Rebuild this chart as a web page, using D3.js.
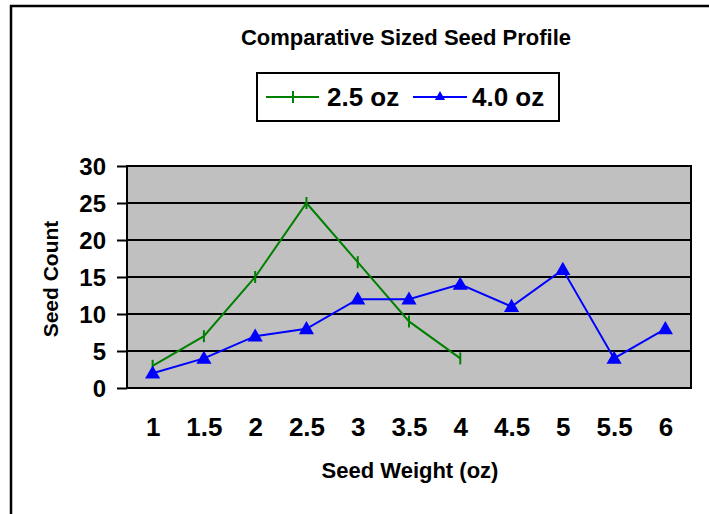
<!DOCTYPE html>
<html>
<head>
<meta charset="utf-8">
<script src="https://cdn.jsdelivr.net/npm/d3@7"></script>
<style>
  html, body { margin: 0; padding: 0; background: #fff; }
  text { font-family: 'Liberation Sans', Arial, sans-serif; font-weight: bold; fill: #000; }
</style>
</head>
<body>
<svg id="chart" width="709" height="514"></svg>
<script>
// chart data
const weights = ['1', '1.5', '2', '2.5', '3', '3.5', '4', '4.5', '5', '5.5', '6'];
const seeds25 = [3, 7, 15, 25, 17, 9, 4];
const seeds40 = [2, 4, 7, 8, 12, 12, 14, 11, 16, 4, 8];
const yTicks = [0, 5, 10, 15, 20, 25, 30];
const seriesNames = ['2.5 oz', '4.0 oz'];

const svg = d3.select('#chart');

// outer frame (right / bottom run off the page)
svg.append('rect')
  .attr('x', 11).attr('y', 6)
  .attr('width', 720).attr('height', 530)
  .attr('fill', 'none')
  .attr('stroke', '#000')
  .attr('stroke-width', 2.5);

const plot = { left: 127, right: 691, top: 166, bottom: 388 };

const x = d3.scalePoint()
  .domain(weights)
  .range([plot.left, plot.right])
  .padding(0.5);

const y = d3.scaleLinear()
  .domain([0, 30])
  .range([plot.bottom, plot.top]);

// plot area
svg.append('rect')
  .attr('x', plot.left).attr('y', plot.top)
  .attr('width', plot.right - plot.left)
  .attr('height', plot.bottom - plot.top)
  .attr('fill', '#c0c0c0');

// gridlines
svg.append('g')
  .selectAll('line')
  .data(yTicks.slice(1, -1))
  .join('line')
  .attr('x1', plot.left).attr('x2', plot.right)
  .attr('y1', (d) => y(d)).attr('y2', (d) => y(d))
  .attr('stroke', '#000')
  .attr('stroke-width', 2);

svg.append('rect')
  .attr('x', plot.left).attr('y', plot.top)
  .attr('width', plot.right - plot.left)
  .attr('height', plot.bottom - plot.top)
  .attr('fill', 'none')
  .attr('stroke', '#000')
  .attr('stroke-width', 2);

// y axis
const yAxis = svg.append('g')
  .attr('transform', `translate(${plot.left},0)`)
  .call(d3.axisLeft(y).tickValues(yTicks).tickSize(10).tickPadding(11));
yAxis.select('.domain').remove();
yAxis.selectAll('.tick line').attr('stroke', '#000').attr('stroke-width', 2);
yAxis.selectAll('.tick text')
  .attr('font-size', 24)
  .attr('font-family', null)
  .attr('dy', '0.36em');

// x axis (labels only)
const xAxis = svg.append('g')
  .attr('transform', `translate(0,${plot.bottom})`)
  .call(d3.axisBottom(x).tickSize(0).tickPadding(0));
xAxis.select('.domain').remove();
xAxis.selectAll('.tick text')
  .attr('font-size', 26)
  .attr('font-family', null)
  .attr('y', 48)
  .attr('dy', 0);

// series
const line = d3.line()
  .x((d, i) => x(weights[i]))
  .y((d) => y(d));

svg.append('path')
  .datum(seeds25)
  .attr('d', line)
  .attr('fill', 'none')
  .attr('stroke', '#008000')
  .attr('stroke-width', 2);

svg.append('g')
  .selectAll('line')
  .data(seeds25)
  .join('line')
  .attr('x1', (d, i) => x(weights[i])).attr('x2', (d, i) => x(weights[i]))
  .attr('y1', (d) => y(d) - 6).attr('y2', (d) => y(d) + 6)
  .attr('stroke', '#008000')
  .attr('stroke-width', 2);

svg.append('path')
  .datum(seeds40)
  .attr('d', line)
  .attr('fill', 'none')
  .attr('stroke', '#0000ff')
  .attr('stroke-width', 2);

const tri = d3.symbol().type(d3.symbolTriangle).size(100);
svg.append('g')
  .selectAll('path')
  .data(seeds40)
  .join('path')
  .attr('d', tri)
  .attr('transform', (d, i) => `translate(${x(weights[i])},${y(d) + 1})`)
  .attr('fill', '#0000ff');

// titles
svg.append('text')
  .attr('x', 406).attr('y', 45)
  .attr('text-anchor', 'middle')
  .attr('font-size', 22)
  .text('Comparative Sized Seed Profile');

svg.append('text')
  .attr('x', 410).attr('y', 478)
  .attr('text-anchor', 'middle')
  .attr('font-size', 22)
  .text('Seed Weight (oz)');

svg.append('text')
  .attr('transform', 'translate(58,279) rotate(-90)')
  .attr('text-anchor', 'middle')
  .attr('font-size', 21)
  .text('Seed Count');

// legend
const legend = svg.append('g');
legend.append('rect')
  .attr('x', 257).attr('y', 73)
  .attr('width', 302).attr('height', 48)
  .attr('fill', '#fff')
  .attr('stroke', '#000')
  .attr('stroke-width', 2);

const ly = 97;
legend.append('line')
  .attr('x1', 266).attr('x2', 319).attr('y1', ly).attr('y2', ly)
  .attr('stroke', '#008000').attr('stroke-width', 2);
legend.append('line')
  .attr('x1', 293).attr('x2', 293).attr('y1', ly - 6).attr('y2', ly + 6)
  .attr('stroke', '#008000').attr('stroke-width', 2);
legend.append('text')
  .attr('x', 327).attr('y', 106)
  .attr('font-size', 26)
  .text(seriesNames[0]);

legend.append('line')
  .attr('x1', 413).attr('x2', 467).attr('y1', ly).attr('y2', ly)
  .attr('stroke', '#0000ff').attr('stroke-width', 2);
legend.append('path')
  .attr('d', d3.symbol().type(d3.symbolTriangle).size(45))
  .attr('transform', `translate(440,${ly})`)
  .attr('fill', '#0000ff');
legend.append('text')
  .attr('x', 472).attr('y', 106)
  .attr('font-size', 26)
  .text(seriesNames[1]);
</script>
</body>
</html>
